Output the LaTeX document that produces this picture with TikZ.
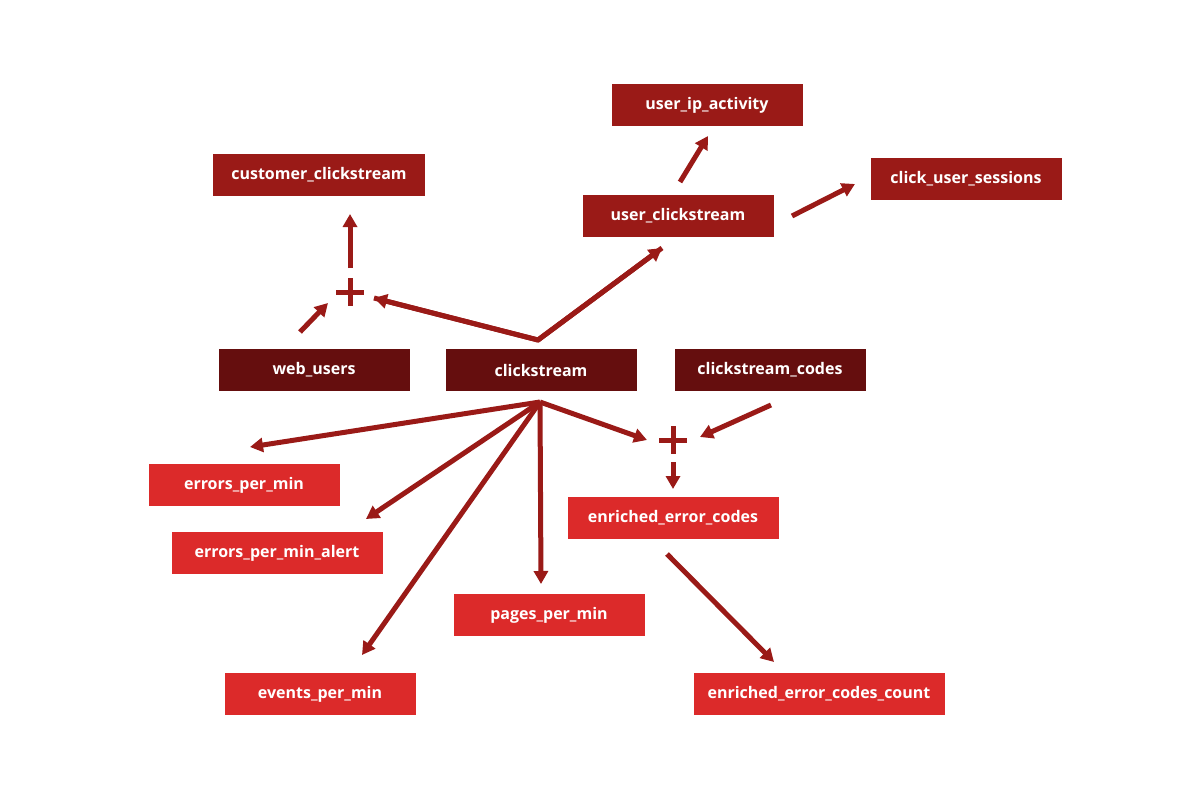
\documentclass[tikz,border=0pt]{standalone}
\usepackage{fontspec}
\setmainfont{Open Sans}
\usetikzlibrary{arrows.meta}
\definecolor{dk}{HTML}{650E0E}
\definecolor{md}{HTML}{9A1A17}
\definecolor{lt}{HTML}{DC2A2A}
\tikzset{
 box/.style={text=white,font=\fontsize{16}{18}\selectfont\bfseries,minimum width=191pt,minimum height=42pt,inner sep=0pt},
 dbox/.style={box,fill=dk},
 mbox/.style={box,fill=md},
 lbox/.style={box,fill=lt},
 arr/.style={draw=md,line width=5pt,-{Triangle[length=13pt,width=14pt]},shorten <=0pt},
 plus/.style={draw=md,line width=5pt}
}
\begin{document}
\begin{tikzpicture}[x=1pt,y=-1pt]
\useasboundingbox (0,0) rectangle (1200,800);
\node[mbox] (uip) at (707,105) {user\_ip\_activity};
\node[mbox,minimum width=212pt] (cc) at (319,175) {customer\_clickstream};
\node[mbox] (uc) at (678,216) {user\_clickstream};
\node[mbox] (cus) at (966,179) {click\_user\_sessions};
\node[dbox] (wu) at (314,370) {web\_users};
\node[dbox] (cs) at (541,370) {clickstream};
\node[dbox] (csc) at (770,370) {clickstream\_codes};
\node[lbox] (epm) at (244,485) {errors\_per\_min};
\node[lbox,minimum width=211pt] (epma) at (277,553) {errors\_per\_min\_alert};
\node[lbox,minimum width=211pt] (eec) at (673,518) {enriched\_error\_codes};
\node[lbox] (ppm) at (549,615) {pages\_per\_min};
\node[lbox] (evm) at (320,694) {events\_per\_min};
\node[lbox,minimum width=251pt] (eecc) at (819,694) {enriched\_error\_codes\_count};
% plus signs
\coordinate (p1) at (350,292);
\coordinate (p2) at (673,440);
\draw[plus] (336,292) -- (364,292) (350,278) -- (350,306);
\draw[plus] (659,440) -- (687,440) (673,426) -- (673,454);
% connector points
\coordinate (ct) at (538,340);
\coordinate (cb) at (540,402);
\draw[md,line width=5pt,line join=miter] (374,298) -- (ct) -- (662,248);
\draw[arr] (ct) -- (374,298);
\draw[arr] (ct) -- (662,248);
\draw[arr] (300,332) -- (328,303);
\draw[arr] (350,268) -- (350,214);
\draw[arr] (680,182) -- (708,136);
\draw[arr] (792,216) -- (855,184);
\draw[arr] (cb) -- (250,447);
\draw[arr] (cb) -- (366,519);
\draw[arr] (cb) -- (362,655);
\draw[arr] (cb) -- (541,584);
\draw[arr] (cb) -- (647,440);
\draw[arr] (771,405) -- (700,437);
\draw[arr] (673,462) -- (673,489);
\draw[arr] (667,554) -- (774,662);
\end{tikzpicture}
\end{document}
